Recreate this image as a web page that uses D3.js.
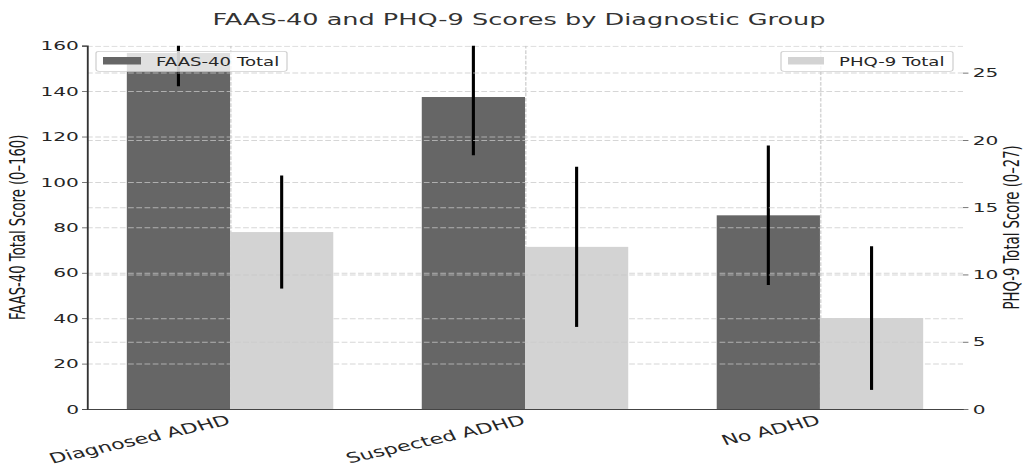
<!DOCTYPE html>
<html><head><meta charset="utf-8">
<script src="https://cdn.jsdelivr.net/npm/d3@7"></script>
<style>body{margin:0;background:#fff} svg{display:block} text{font-family:"DejaVu Sans",sans-serif}</style>
</head><body><svg id="c"></svg>
<script>
const categories = ["Diagnosed ADHD", "Suspected ADHD", "No ADHD"];
const faasMean = [156.8, 137.4, 85.3];
const faasSD = [14.7, 25.7, 30.7];
const phqMean = [13.15, 12.05, 6.76];
const phqSD = [4.2, 5.95, 5.34];
const faasTicks = [0, 20, 40, 60, 80, 100, 120, 140, 160];
const phqTicks = [0, 5, 10, 15, 20, 25];
const seriesNames = ["FAAS-40 Total", "PHQ-9 Total"];
const colors = ["#666666", "#d3d3d3"];

const W = 1027, H = 468, SX = 1.55;
const VW = W / SX;
const L = 87 / SX, R = 963 / SX, T = 45.7, B = 409;
const svg = d3.select("#c").attr("width", W).attr("height", H)
  .attr("viewBox", `0 0 ${VW} ${H}`).attr("preserveAspectRatio", "none");

const x = d3.scaleLinear().domain([-0.485, 2.485]).range([L, R]);
const y1 = d3.scaleLinear().domain([0, 160]).range([B, T]);
const y2 = d3.scaleLinear().domain([0, 27]).range([B, T]);
const bw = 0.35;

svg.append("defs").append("clipPath").attr("id", "clip")
  .append("rect").attr("x", L).attr("y", T).attr("width", R - L).attr("height", B - T);

const idx = d3.range(categories.length);
const gridStyle = g => {
  g.select(".domain").remove();
  g.selectAll(".tick line").attr("stroke", "#c8c8c8").attr("stroke-opacity", 0.75)
    .attr("stroke-dasharray", "3.7,1.6").attr("stroke-width", 1);
  g.selectAll("text").remove();
};

// ---- axis 1 layer ----
const a1 = svg.append("g").attr("clip-path", "url(#clip)");
a1.selectAll("rect.faas").data(idx).join("rect")
  .attr("x", i => x(i - bw)).attr("width", x(bw) - x(0))
  .attr("y", i => y1(faasMean[i])).attr("height", i => B - y1(faasMean[i]))
  .attr("fill", colors[0]);
a1.append("g").attr("transform", `translate(${L},0)`)
  .call(d3.axisLeft(y1).tickValues(faasTicks).tickSize(-(R - L))).call(gridStyle);
a1.append("g").attr("transform", `translate(0,${B})`)
  .call(d3.axisBottom(x).tickValues(idx).tickSize(-(B - T))).call(gridStyle);
a1.selectAll("line.eb1").data(idx).join("line")
  .attr("x1", i => x(i - bw / 2)).attr("x2", i => x(i - bw / 2))
  .attr("y1", i => y1(faasMean[i] - faasSD[i])).attr("y2", i => y1(faasMean[i] + faasSD[i]))
  .attr("stroke", "#000").attr("stroke-width", 2);

// legend
function legend(g, bx0, bx1, px0, px1, tx, label, color) {
  g.append("rect").attr("x", bx0 / SX).attr("y", 51.3).attr("width", (bx1 - bx0) / SX).attr("height", 20)
    .attr("rx", 2).attr("fill", "#fff").attr("fill-opacity", 0.8).attr("stroke", "#cfcfcf").attr("stroke-width", 0.8);
  g.append("rect").attr("x", px0 / SX).attr("y", 57).attr("width", (px1 - px0) / SX).attr("height", 7.5)
    .attr("fill", color);
  g.append("text").attr("x", tx / SX).attr("y", 65.6).attr("font-size", 11.7).attr("fill", "#262626").text(label);
}
legend(svg.append("g"), 96, 287, 103, 141, 156, seriesNames[0], colors[0]);

// ---- axis 2 layer ----
const a2 = svg.append("g").attr("clip-path", "url(#clip)");
a2.selectAll("rect.phq").data(idx).join("rect")
  .attr("x", i => x(i)).attr("width", x(bw) - x(0))
  .attr("y", i => y2(phqMean[i])).attr("height", i => B - y2(phqMean[i]))
  .attr("fill", colors[1]);
a2.append("g").attr("transform", `translate(${L},0)`)
  .call(d3.axisLeft(y2).tickValues(phqTicks).tickSize(-(R - L))).call(gridStyle);
a2.selectAll("line.eb2").data(idx).join("line")
  .attr("x1", i => x(i + bw / 2)).attr("x2", i => x(i + bw / 2))
  .attr("y1", i => y2(phqMean[i] - phqSD[i])).attr("y2", i => y2(phqMean[i] + phqSD[i]))
  .attr("stroke", "#000").attr("stroke-width", 2);
legend(svg.append("g"), 781, 953, 788, 824, 839, seriesNames[1], colors[1]);

// ---- axes ----
const axStyle = g => {
  g.selectAll(".tick line").attr("stroke", "#555").attr("stroke-width", 0.8);
  g.selectAll("text").attr("font-size", 13).attr("fill", "#262626").attr("font-family", '"DejaVu Sans",sans-serif');
};
const ax1 = svg.append("g").attr("transform", `translate(${L},0)`)
  .call(d3.axisLeft(y1).tickValues(faasTicks).tickSize(3.2).tickPadding(2)).call(axStyle);
ax1.select(".domain").attr("stroke", "#333").attr("stroke-width", 1.2);

const ax2 = svg.append("g").attr("transform", `translate(${R},0)`)
  .call(d3.axisRight(y2).tickValues(phqTicks).tickSize(3.5).tickPadding(2.8)).call(axStyle);
ax2.select(".domain").remove();

const axb = svg.append("g").attr("transform", `translate(0,${B})`)
  .call(d3.axisBottom(x).tickValues(idx).tickFormat(i => categories[i]).tickSize(0)).call(axStyle);
axb.select(".domain").attr("stroke", "#444").attr("stroke-width", 1.2);
axb.selectAll("text").attr("font-size", 14.2).attr("text-anchor", "end").attr("x", 0).attr("y", 0).attr("dy", "0.75em")
  .attr("transform", "translate(-3,5) rotate(-19)");

// ---- labels ----
svg.append("text").attr("x", (212 + 826) / 2 / SX).attr("y", 25).attr("text-anchor", "middle")
  .attr("font-size", 16.5).attr("fill", "#333").text("FAAS-40 and PHQ-9 Scores by Diagnostic Group");
svg.append("text").attr("transform", `translate(${25 / SX},${(T + B) / 2}) rotate(-90)`)
  .attr("text-anchor", "middle").attr("font-size", 13.2).attr("fill", "#1a1a1a").text("FAAS-40 Total Score (0–160)");
svg.append("text").attr("transform", `translate(${1019 / SX},${(T + B) / 2}) rotate(-90)`)
  .attr("text-anchor", "middle").attr("font-size", 13.2).attr("fill", "#1a1a1a").text("PHQ-9 Total Score (0–27)");
</script></body></html>
